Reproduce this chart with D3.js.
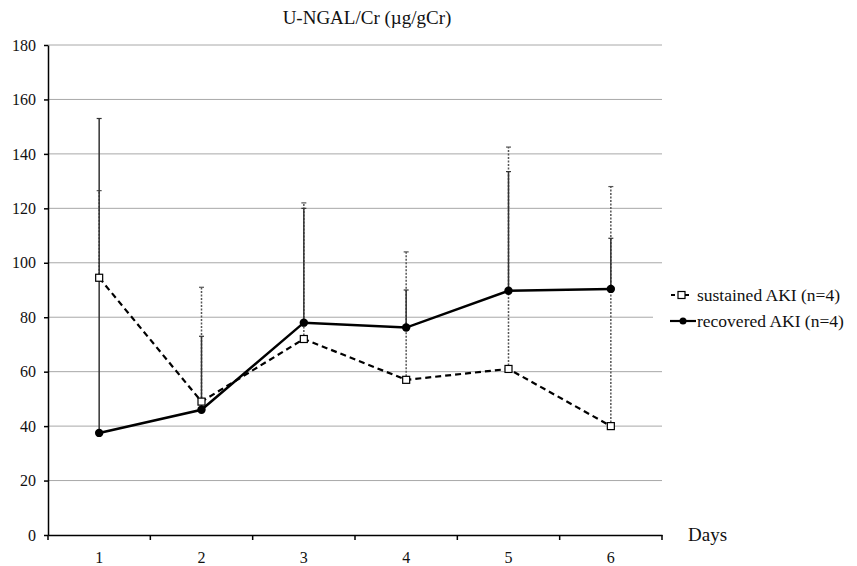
<!DOCTYPE html>
<meta charset="UTF-8">
<style>
    body { margin: 0; background: #fff; }
    text { font-family: "Liberation Serif", "Times New Roman", Times, serif; fill: #111; }
    .grid line { stroke: #a8a8a8; stroke-width: 1px; }
    .axis path, .axis line { stroke: #000; stroke-width: 1.5px; }
</style>
<body>
<script src="https://d3js.org/d3.v7.min.js"></script>
<script>

// values
var days = ["1", "2", "3", "4", "5", "6"];
var sustainedMean  = [94.5, 49, 72, 57, 61, 40];
var sustainedUpper = [126.5, 91, 122, 104, 142.5, 128];
var recoveredMean  = [37.5, 46, 78, 76.2, 89.7, 90.4];
var recoveredUpper = [153, 73, 120, 90, 133.5, 109];
var yTicks = [0, 20, 40, 60, 80, 100, 120, 140, 160, 180];

var width = 857, height = 566;
var margin = {top: 45, right: 195, bottom: 31, left: 48};
var serif = '"Liberation Serif", "Times New Roman", Times, serif';

var svg = d3.select("body").append("svg")
    .attr("width", width)
    .attr("height", height);

var x = d3.scaleBand()
    .domain(days)
    .range([margin.left, width - margin.right]);

var y = d3.scaleLinear()
    .domain([0, 180])
    .range([height - margin.bottom, margin.top]);

var cx = function(i) { return x(days[i]) + x.bandwidth() / 2; };

// title
svg.append("text")
    .attr("x", 367)
    .attr("y", 24)
    .attr("text-anchor", "middle")
    .style("font-family", serif)
    .style("font-size", "19px")
    .text("U-NGAL/Cr (\u00b5g/gCr)");

// horizontal gridlines
svg.append("g")
    .attr("class", "grid")
    .selectAll("line")
    .data(yTicks.slice(1))
  .enter().append("line")
    .attr("x1", margin.left)
    .attr("x2", width - margin.right)
    .attr("y1", function(d) { return y(d); })
    .attr("y2", function(d) { return y(d); });

// error bars (upper only)
function errorBars(mean, upper, color, dash, w) {
  var g = svg.append("g");
  g.selectAll("line.bar")
      .data(mean)
    .enter().append("line")
      .attr("x1", function(d, i) { return cx(i); })
      .attr("x2", function(d, i) { return cx(i); })
      .attr("y1", function(d) { return y(d); })
      .attr("y2", function(d, i) { return y(upper[i]); })
      .attr("stroke", color)
      .attr("stroke-width", w)
      .attr("stroke-dasharray", dash);
  g.selectAll("line.cap")
      .data(upper)
    .enter().append("line")
      .attr("x1", function(d, i) { return cx(i) - 2.5; })
      .attr("x2", function(d, i) { return cx(i) + 2.5; })
      .attr("y1", function(d) { return y(d); })
      .attr("y2", function(d) { return y(d); })
      .attr("stroke", color)
      .attr("stroke-width", 1.2);
}
errorBars(sustainedMean, sustainedUpper, "#555", "2,1.5", 1.5);
errorBars(recoveredMean, recoveredUpper, "#333", null, 1.5);

// axes
var yAxis = svg.append("g")
    .attr("class", "axis")
    .attr("transform", "translate(" + margin.left + ",0)")
    .call(d3.axisLeft(y).tickValues(yTicks).tickSize(4).tickSizeOuter(0));
yAxis.attr("font-family", serif);
yAxis.selectAll("text")
    .style("font-family", serif)
    .style("font-size", "16px")
    .attr("x", -12);

var xAxis = svg.append("g")
    .attr("class", "axis")
    .attr("transform", "translate(0," + y(0) + ")")
    .call(d3.axisBottom(x).tickSize(0).tickSizeOuter(0));
xAxis.attr("font-family", serif);
xAxis.selectAll("text")
    .style("font-family", serif)
    .style("font-size", "16px")
    .attr("y", 28)
    .attr("dy", 0);

// x ticks at band boundaries
xAxis.selectAll("line.bound")
    .data(d3.range(days.length + 1))
  .enter().append("line")
    .attr("class", "bound")
    .attr("x1", function(i) { return margin.left + i * x.bandwidth(); })
    .attr("x2", function(i) { return margin.left + i * x.bandwidth(); })
    .attr("y1", 0)
    .attr("y2", 5)
    .attr("stroke", "#000")
    .attr("stroke-width", 1.5);

svg.append("text")
    .attr("x", 688)
    .attr("y", 541)
    .style("font-family", serif)
    .style("font-size", "19px")
    .text("Days");

// series lines
var line = function(vals) {
  return d3.line()
    .x(function(d, i) { return cx(i); })
    .y(function(d) { return y(d); })(vals);
};

svg.append("path")
    .attr("d", line(sustainedMean))
    .attr("fill", "none")
    .attr("stroke", "#000")
    .attr("stroke-width", 2.2)
    .attr("stroke-dasharray", "6,4");

svg.append("path")
    .attr("d", line(recoveredMean))
    .attr("fill", "none")
    .attr("stroke", "#000")
    .attr("stroke-width", 2.5);

svg.selectAll("rect.sq")
    .data(sustainedMean)
  .enter().append("rect")
    .attr("class", "sq")
    .attr("x", function(d, i) { return cx(i) - 3.5; })
    .attr("y", function(d) { return y(d) - 3.5; })
    .attr("width", 7)
    .attr("height", 7)
    .attr("fill", "#fff")
    .attr("stroke", "#000")
    .attr("stroke-width", 1.2);

svg.selectAll("circle.dot")
    .data(recoveredMean)
  .enter().append("circle")
    .attr("class", "dot")
    .attr("cx", function(d, i) { return cx(i); })
    .attr("cy", function(d) { return y(d); })
    .attr("r", 4.2)
    .attr("fill", "#000");

// legend
var legend = svg.append("g");
legend.append("rect")
    .attr("x", 653).attr("y", 280)
    .attr("width", 204).attr("height", 60)
    .attr("fill", "#fff");

legend.append("line")
    .attr("x1", 671).attr("x2", 692).attr("y1", 295).attr("y2", 295)
    .attr("stroke", "#000").attr("stroke-width", 2).attr("stroke-dasharray", "4,3");
legend.append("rect")
    .attr("x", 678).attr("y", 291.5).attr("width", 7).attr("height", 7)
    .attr("fill", "#fff").attr("stroke", "#000").attr("stroke-width", 1.2);
legend.append("text")
    .attr("x", 697).attr("y", 301)
    .style("font-family", serif)
    .style("font-size", "17.5px")
    .text("sustained AKI (n=4)");

legend.append("line")
    .attr("x1", 670).attr("x2", 696).attr("y1", 321).attr("y2", 321)
    .attr("stroke", "#000").attr("stroke-width", 2.2);
legend.append("circle")
    .attr("cx", 683).attr("cy", 321).attr("r", 3.5).attr("fill", "#000");
legend.append("text")
    .attr("x", 697).attr("y", 327)
    .style("font-family", serif)
    .style("font-size", "17.5px")
    .text("recovered AKI (n=4)");

</script>
</body>
